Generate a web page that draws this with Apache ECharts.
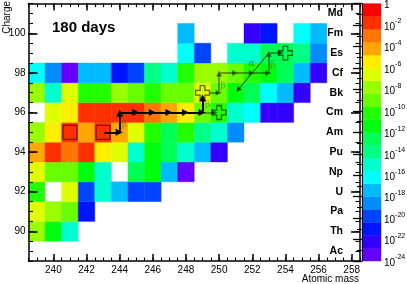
<!DOCTYPE html>
<html><head><meta charset="utf-8">
<script src="https://cdn.jsdelivr.net/npm/echarts@6/dist/echarts.min.js"></script>
<style>html,body{margin:0;padding:0;background:#fff}#c{width:407px;height:284px}</style>
</head><body><div id="c"></div>
<script>
// ---------- data ----------
const masses = [239,240,241,242,243,244,245,246,247,248,249,250,251,252,253,254,255,256];
const elementCharges = [89,90,91,92,93,94,95,96,97,98,99,100,101];
const elementNames = ['Ac','Th','Pa','U','Np','Pu','Am','Cm','Bk','Cf','Es','Fm','Md'];
const massTicks = [240,242,244,246,248,250,252,254,256,258];
const chargeTicks = [90,92,94,96,98,100];
const zExponents = [0,-2,-4,-6,-8,-10,-12,-14,-16,-18,-20,-22,-24];
const n = null;
// log10 of abundance after 180 days; index = mass - 239
const logZ100 = [n,n,n,n,n,n,n,n,n,-17.4,n,n,n,-22.2,-21.0,n,-16.2,-17.4];
const logZ99  = [n,n,n,n,n,n,n,n,n,-16.2,-19.8,n,-15.0,-15.0,-12.6,-12.6,-13.8,-18.6];
const logZ98  = [-16.2,-18.6,-23.4,-17.4,-17.4,-21.0,-19.8,-13.8,-15.0,-10.2,-7.8,-7.8,-9.0,-10.2,-11.4,-12.6,-17.4,-22.2];
const logZ97  = [-7.8,-15.0,-6.6,-10.2,-10.2,-7.8,-9.0,-10.2,-9.0,-9.0,-6.6,-9.0,-11.4,-12.6,-16.2,-17.4,-22.2,n];
const logZ96  = [n,-6.6,-5.4,-1.8,-1.8,-1.8,-1.8,-3.0,-4.2,-5.4,-9.0,-10.2,-15.0,-16.2,-22.2,-22.2,n,n];
const logZ95  = [-7.8,-5.4,-1.8,-4.2,-1.8,-4.2,-6.6,-10.2,-12.6,-10.2,-13.8,-15.0,-18.6,n,n,n,n,n];
const logZ94  = [-4.2,-1.8,-3.0,-1.8,-5.4,-6.6,-15.0,-11.4,-12.6,-15.0,-17.4,-22.2,n,n,n,n,n,n];
const logZ93  = [-6.6,-9.0,-9.0,-11.4,-15.0,n,-12.6,-11.4,-17.4,-23.4,n,n,n,n,n,n,n,n];
const logZ92  = [-10.2,n,-6.6,-19.8,-15.0,-17.4,-19.8,-19.8,n,n,n,n,n,n,n,n,n,n];
const logZ91  = [-6.6,-7.8,-9.0,-21.0,n,n,n,n,n,n,n,n,n,n,n,n,n,n];
const logZ90  = [-7.8,-11.4,-15.0,n,n,n,n,n,n,n,n,n,n,n,n,n,n,n];
const rows = {100:logZ100,99:logZ99,98:logZ98,97:logZ97,96:logZ96,95:logZ95,94:logZ94,93:logZ93,92:logZ92,91:logZ91,90:logZ90};

// markers (mass, charge)
const startNuclei = [[241,95],[243,95]];
const endNuclei = [[249,97],[250,96],[254,99]];
// decay / capture chains (mass, charge)
const mainChain = [[243,95],[244,95],[244,96],[245,96],[246,96],[247,96],[248,96],[249,96],[249,97]];
const sideChains = [[[249,96],[250,96]], [[249,97],[250,97],[250,98],[251,98],[252,98],[253,98],[253,99],[254,99]]];
const alphaArrow = [[253,99],[251.15,97.15]];
const betaLabelPos = [[244.35,95.45],[249.37,96.47],[250.3,97.45],[253.3,98.5]];
const alphaLabelPos = [251.95,98.47];

// ---------- helpers ----------
const FONT = 'Liberation Sans, Arial, Helvetica, sans-serif';
const zMin = -24, zMax = 0, nLevels = 20;
function hueToRgb(h){
  const x = 1 - Math.abs(((h/60)%2) - 1);
  let r,g,b;
  if (h<60){r=1;g=x;b=0;} else if(h<120){r=x;g=1;b=0;} else if(h<180){r=0;g=1;b=x;}
  else if(h<240){r=0;g=x;b=1;} else if(h<300){r=x;g=0;b=1;} else {r=1;g=0;b=x;}
  return 'rgb('+Math.round(r*255)+','+Math.round(g*255)+','+Math.round(b*255)+')';
}
const levelColors = [];
const pieces = [];
const step = (zMax - zMin)/nLevels;
for (let i=0;i<nLevels;i++){
  const j = Math.floor((i+0.99)*50/nLevels);
  const hue = Math.max(0, 280 - (j+1)*5.6);
  const col = hueToRgb(hue);
  levelColors.push(col);
  pieces.push({min: zMin + i*step, max: zMin + (i+1)*step, color: col});
}
const cells = [];
Object.keys(rows).forEach(c => {
  rows[c].forEach((v,i) => { if (v !== null) cells.push([masses[i], +c, v]); });
});
const barData = pieces.map((p,i) => [0, p.min, p.max, i]);

const crossSet = new Set(endNuclei.map(p => p.join(',')));
function segs(chain){
  const out = [];
  for (let k=0;k<chain.length-1;k++){
    const a = chain[k], b = chain[k+1];
    const dx = b[0]-a[0], dy = b[1]-a[1];
    const s0 = crossSet.has(a.join(',')) ? 0.4 : 0.08;
    const s1 = crossSet.has(b.join(',')) ? 0.27 : 0.03;
    out.push({coords:[[a[0]+dx*s0, a[1]+dy*s0],[b[0]-dx*s1, b[1]-dy*s1]]});
  }
  return out;
}
const mainSegs = segs(mainChain);
const sideSegs = [].concat(...sideChains.map(segs));

function rectItem(params, api){
  const x = api.value(0), y = api.value(1);
  const p0 = api.coord([x-0.5, y+0.5]);
  const p1 = api.coord([x+0.5, y-0.5]);
  const col = api.visual('color');
  return {type:'rect', shape:{x:p0[0], y:p0[1], width:p1[0]-p0[0], height:p1[1]-p0[1]},
          style:{fill:col, stroke:col, lineWidth:0.4}};
}
function barItem(params, api){
  const p0 = api.coord([0, api.value(2)]);
  const p1 = api.coord([1, api.value(1)]);
  const col = levelColors[api.value(3)];
  return {type:'rect', shape:{x:p0[0], y:p0[1], width:p1[0]-p0[0], height:p1[1]-p0[1]},
          style:{fill:col, stroke:col, lineWidth:0.4}};
}

const GL = 28.5, GT = 3.6, GW = 331.5, GH = 257.4;
const lineBlack = {color:'#000', width:1.5};
function xAx(pos, major, labels){
  return {gridIndex:0, type:'value', min:238.5, max:258.5, position:pos, z:10,
    interval: major ? undefined : 0.5,
    axisLine:{show:!major, onZero:false, lineStyle:lineBlack},
    axisTick: major ? {show:true, inside:true, length:7, customValues:massTicks, lineStyle:{color:'#000', width:1.5}}
                    : {show:true, inside:true, length:3.5, lineStyle:{color:'#000', width:1.1}},
    axisLabel: labels ? {show:true, customValues:massTicks, fontSize:10, margin:4, color:'#000', fontFamily:FONT} : {show:false},
    splitLine:{show:false}};
}
function yAx(pos, major, labels){
  const ax = {gridIndex:0, type:'value', min:88.5, max:101.5, position:pos, z:10,
    interval: major ? undefined : 0.5,
    axisLine:{show:!major, onZero:false, lineStyle:lineBlack},
    axisTick: major ? {show:true, inside:true, length:9, customValues:chargeTicks, lineStyle:{color:'#000', width:1.6}}
                    : {show:true, inside:true, length:4.5, lineStyle:{color:'#000', width:1.1}},
    axisLabel:{show:false}, splitLine:{show:false}};
  if (labels === 'num') ax.axisLabel = {show:true, customValues:chargeTicks, fontSize:10, margin:3, color:'#000', fontFamily:FONT};
  if (labels === 'el') ax.axisLabel = {show:true, inside:true, customValues:elementCharges, margin:17,
      formatter: v => elementNames[elementCharges.indexOf(Math.round(v))],
      fontSize:10.5, fontWeight:'bold', color:'#000', fontFamily:FONT};
  return ax;
}

const option = {
  animation:false,
  backgroundColor:'#fff',
  grid:[{left:GL, top:GT, width:GW, height:GH, containLabel:false, outerBoundsMode:'none'},
        {left:362, top:GT, width:19, height:GH, containLabel:false, outerBoundsMode:'none'}],
  xAxis:[xAx('bottom',false,false), xAx('bottom',true,true), xAx('top',false,false), xAx('top',true,false),
         {gridIndex:1, type:'value', min:0, max:1, show:false}],
  yAxis:[yAx('left',false,null), yAx('left',true,'num'), yAx('right',false,null), yAx('right',true,'el'),
         {gridIndex:1, type:'value', min:zMin, max:zMax, interval:2, position:'right', z:10,
          axisLine:{show:true, lineStyle:{color:'#000', width:1}},
          axisTick:{show:true, inside:true, length:9, lineStyle:{color:'#000', width:1.3}},
          minorTick:{show:true, splitNumber:2, length:5, lineStyle:{color:'#000', width:1.1}},
          splitLine:{show:false},
          axisLabel:{show:true, margin:3, color:'#000', fontFamily:FONT,
            customValues: zExponents,
            formatter: v => v === 0 ? '{b|1}' : '{b|10}{s|' + v + '}',
            rich:{b:{fontSize:10, fontFamily:FONT, color:'#000', lineHeight:14, verticalAlign:'bottom'},
                  s:{fontSize:7, fontFamily:FONT, color:'#000', lineHeight:14, verticalAlign:'top'}}}}],
  visualMap:{type:'piecewise', show:false, dimension:2, seriesIndex:0, pieces:pieces},
  series:[
    {type:'custom', xAxisIndex:0, yAxisIndex:0, renderItem:rectItem, data:cells, z:2, encode:{x:0,y:1}},
    {type:'custom', xAxisIndex:4, yAxisIndex:4, renderItem:barItem, data:barData, z:2, encode:{x:0,y:[1,2]}},
    {type:'scatter', xAxisIndex:0, yAxisIndex:0, z:5, symbol:'rect', symbolSize:14, data:startNuclei,
     itemStyle:{color:'rgba(0,0,0,0)', borderColor:'rgba(40,0,0,0.75)', borderWidth:1.3}},
    {type:'scatter', xAxisIndex:0, yAxisIndex:0, z:5, symbol:'path://M1,0L2,0L2,1L3,1L3,2L2,2L2,3L1,3L1,2L0,2L0,1L1,1Z', symbolSize:14, data:endNuclei,
     itemStyle:{color:'rgba(0,0,0,0)', borderColor:'rgba(0,0,0,0.75)', borderWidth:1.3}},
    {type:'lines', coordinateSystem:'cartesian2d', xAxisIndex:0, yAxisIndex:0, z:6, symbol:['none','triangle'], symbolSize:[7,7],
     lineStyle:{color:'#000', width:2, opacity:1, curveness:0}, data:mainSegs},
    {type:'lines', coordinateSystem:'cartesian2d', xAxisIndex:0, yAxisIndex:0, z:6, symbol:['none','triangle'], symbolSize:[6,6],
     lineStyle:{color:'rgba(0,0,0,0.5)', width:1.5, opacity:1, curveness:0}, data:sideSegs},
    {type:'lines', coordinateSystem:'cartesian2d', xAxisIndex:0, yAxisIndex:0, z:6, symbol:['none','triangle'], symbolSize:[5,5],
     lineStyle:{color:'rgba(0,0,0,0.75)', width:1, opacity:1, curveness:0}, data:[{coords:alphaArrow}]},
    {type:'scatter', xAxisIndex:0, yAxisIndex:0, z:7, symbolSize:0, data:betaLabelPos,
     label:{show:true, position:'inside', formatter:'{a|β}{s|-}',
       rich:{a:{fontSize:9, color:'rgba(60,60,60,0.6)', fontFamily:'DejaVu Serif, serif', lineHeight:12, verticalAlign:'bottom'},
             s:{fontSize:6, color:'rgba(60,60,60,0.6)', fontFamily:FONT, lineHeight:12, verticalAlign:'top'}}}},
    {type:'scatter', xAxisIndex:0, yAxisIndex:0, z:7, symbolSize:0, data:[alphaLabelPos],
     label:{show:true, position:'inside', formatter:'α', fontSize:9, color:'rgba(40,40,40,0.7)', fontFamily:'DejaVu Serif, serif'}}
  ],
  graphic:[
    {type:'text', x:52, y:27.5, z:20, style:{text:'180 days', font:'bold 15px ' + FONT, fill:'#000', verticalAlign:'middle'}},
    {type:'text', x:7, y:1, rotation:Math.PI/2, z:20, style:{text:'Charge', font:'10px ' + FONT, fill:'#000', align:'right', verticalAlign:'middle'}},
    {type:'text', x:359, y:279, z:20, style:{text:'Atomic mass', font:'10px ' + FONT, fill:'#000', align:'right', verticalAlign:'middle'}}
  ]
};
const chart = echarts.init(document.getElementById('c'), null, {renderer:'canvas'});
chart.setOption(option);
</script></body></html>
